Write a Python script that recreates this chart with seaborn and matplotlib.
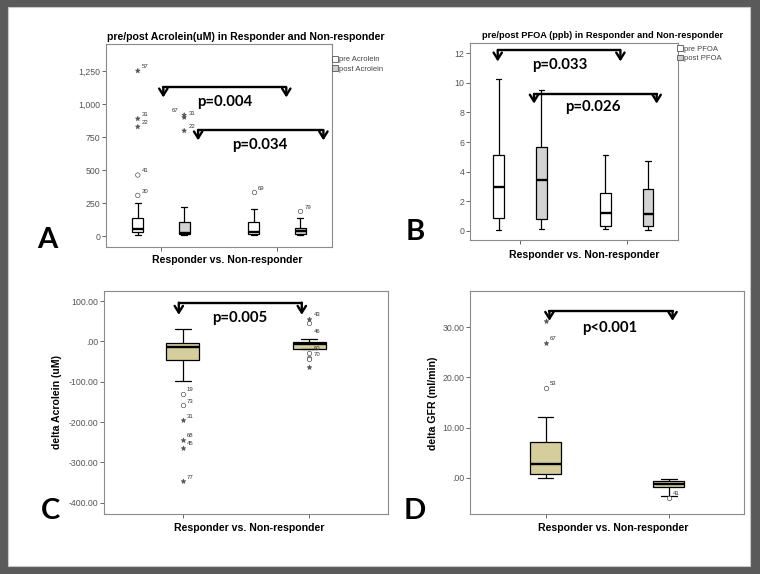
import numpy as np
import pandas as pd
import matplotlib
matplotlib.use("Agg")
import matplotlib.pyplot as plt
import seaborn as sns
from matplotlib.patches import Rectangle, Patch
from matplotlib.ticker import FuncFormatter

groups = ['Responder', 'Non-responder']
times = ['pre', 'post']

# five-number summaries: low whisker, Q1, median, Q3, high whisker
acro_pre_resp = [8, 28, 55, 134, 250]
acro_post_resp = [10, 15, 25, 106, 217]
acro_pre_nonresp = [8, 13, 28, 104, 205]
acro_post_nonresp = [8, 13, 35, 63, 134]

pfoa_pre_resp = [0.05, 0.83, 2.93, 5.12, 10.29]
pfoa_post_resp = [0.09, 0.77, 3.41, 5.64, 9.5]
pfoa_pre_nonresp = [0.09, 0.34, 1.17, 2.57, 5.14]
pfoa_post_nonresp = [0.02, 0.34, 1.15, 2.84, 4.71]

dacro_resp = [-97.8, -46.4, -13.4, -5.0, 31.4]
dacro_nonresp = [-20.0, -17.7, -5.3, -1.2, 5.0]

dgfr_resp = [0.0, 0.8, 2.79, 7.19, 12.18]
dgfr_nonresp = [-3.6, -1.92, -1.26, -0.66, -0.2]

# outliers (o = outlier, * = extreme) with case numbers
a_out_group = ['Responder'] * 8 + ['Non-responder'] * 2
a_out_time = ['pre'] * 5 + ['post'] * 3 + ['pre', 'post']
a_out_value = [308, 462, 828, 889, 1252, 798, 899, 917, 331, 187]
a_out_mark = ['o', 'o', '*', '*', '*', '*', '*', '*', 'o', 'o']
a_out_id = ['30', '41', '22', '31', '57', '22', '31', '67', '69', '79']

c_out_group = ['Responder'] * 6 + ['Non-responder'] * 6
c_out_value = [-131, -158.7, -195.9, -244.6, -263.6, -347, 55.4, 44.6, -28, -40, -44, -64.5]
c_out_mark = ['o', 'o', '*', '*', '*', '*', '*', 'o', 'o', 'o', 'o', '*']
c_out_id = ['19', '73', '31', '68', '45', '77', '43', '46', '60', '', '70', '']

d_out_group = ['Responder'] * 3 + ['Non-responder']
d_out_value = [17.96, 26.95, 31.2, -4.05]
d_out_mark = ['o', '*', '*', 'o']
d_out_id = ['53', '67', '', '41']

p_texts = ['p=0.004', 'p=0.034', 'p=0.033', 'p=0.026', 'p=0.005', 'p<0.001']

sns.set_theme(style='white')
plt.rcParams['font.family'] = ['Liberation Sans', 'DejaVu Sans']

W, H = 760, 574
fig = plt.figure(figsize=(W / 100, H / 100), dpi=100, facecolor='#5a5a5a')
fig.patches.append(Rectangle((8 / W, 1 - 566 / H), 742 / W, 559 / H,
                             transform=fig.transFigure, facecolor='white',
                             edgecolor='#c8c8c8', lw=0.8, zorder=-10))


def px_axes(l, t, r, b):
    ax = fig.add_axes([l / W, 1 - b / H, (r - l) / W, (b - t) / H])
    ax.set_zorder(1)
    return ax


def fig_text(x, y, s, **kw):
    fig.text(x / W, 1 - y / H, s, **kw)


def long_df(boxes):
    rows = []
    for (grp, tm), vals in boxes.items():
        for v in vals:
            rows.append((grp, tm, v))
    return pd.DataFrame(rows, columns=['group', 'time', 'value'])


def spss_fmt(v, pos):
    s = f'{v:.2f}'
    return s.replace('0.', '.', 1) if abs(v) < 1 else s


def style_axes(ax, xlim, ylim, yticks, fmt):
    ax.set_xlim(*xlim)
    ax.set_ylim(*ylim)
    ax.set_yticks(yticks)
    ax.yaxis.set_major_formatter(FuncFormatter(fmt))
    ax.set_xticks([0, 1])
    ax.set_xticklabels([])
    ax.set_xlabel('')
    ax.set_ylabel('')
    ax.tick_params(bottom=True, left=True, direction='out', length=3, width=0.7,
                   color='#666666', labelsize=6.3, labelcolor='#555555', pad=1)
    for sp in ax.spines.values():
        sp.set_color('#8a8a8a')
        sp.set_linewidth(0.8)


def draw_outliers(ax, df, hue):
    for mark, face, size in [('o', 'white', 3.2), ('*', '#555555', 3.4)]:
        sub = df[df['mark'] == mark]
        if sub.empty:
            continue
        kw = dict(data=sub, x='group', y='value', order=groups, jitter=False,
                  marker=mark, size=size, linewidth=0.5, edgecolor='#555555',
                  legend=False, ax=ax, zorder=5)
        if hue:
            kw.update(hue='time', hue_order=times, dodge=True, palette=[face, face])
        else:
            kw.update(color=face)
        sns.stripplot(**kw)
    for _, r in df.iterrows():
        x = groups.index(r['group'])
        if hue:
            x += -0.2 if r['time'] == 'pre' else 0.2
        dx, dy = (-9, 2) if r['id'] == '67' and hue else (3, 2)
        if r['id'] == '46':
            dy = -7
        ax.annotate(r['id'], (x, r['value']), xytext=(dx, dy), textcoords='offset points',
                    fontsize=4.3, color='#333333')


def bracket(ax, x1, x2, y, tip, text, tx, ty):
    ax.plot([x1, x2], [y, y], color='black', lw=1.7, solid_capstyle='round', zorder=6)
    for x in (x1, x2):
        ax.annotate('', xy=(x, tip), xytext=(x, y),
                    arrowprops=dict(arrowstyle='->,head_length=0.4,head_width=0.25',
                                    lw=1.7, color='black', shrinkA=0, shrinkB=0))
    ax.text(tx, ty, text, ha='center', va='center', fontsize=10.8, color='black',
            fontweight='bold', family=['Lato', 'DejaVu Sans'])


box_kw = dict(whis=(0, 100), linecolor='black', linewidth=0.9, saturation=1,
              medianprops={'linewidth': 1.7}, legend=False)

# ---- A: pre/post Acrolein
ax = px_axes(106, 44, 332, 247)
df_a = long_df({('Responder', 'pre'): acro_pre_resp, ('Responder', 'post'): acro_post_resp,
                ('Non-responder', 'pre'): acro_pre_nonresp, ('Non-responder', 'post'): acro_post_nonresp})
sns.boxplot(data=df_a, x='group', y='value', hue='time', order=groups, hue_order=times,
            palette=['white', '#d3d3d3'], width=0.8, gap=0.76, ax=ax, **box_kw)
out_a = pd.DataFrame({'group': a_out_group, 'time': a_out_time, 'value': a_out_value,
                      'mark': a_out_mark, 'id': a_out_id})
draw_outliers(ax, out_a, hue=True)
style_axes(ax, (-0.474, 1.474), (-83, 1455), np.arange(0, 1251, 250),
           lambda v, p: f'{v:,.0f}')
bracket(ax, 0.02, 1.08, 1126, 1050, p_texts[0], 0.55, 1018)
bracket(ax, 0.32, 1.40, 803, 725, p_texts[1], 0.85, 689)

# ---- B: pre/post PFOA
ax = px_axes(470, 43, 678, 240)
df_b = long_df({('Responder', 'pre'): pfoa_pre_resp, ('Responder', 'post'): pfoa_post_resp,
                ('Non-responder', 'pre'): pfoa_pre_nonresp, ('Non-responder', 'post'): pfoa_post_nonresp})
sns.boxplot(data=df_b, x='group', y='value', hue='time', order=groups, hue_order=times,
            palette=['white', '#d3d3d3'], width=0.8, gap=0.75, ax=ax, **box_kw)
style_axes(ax, (-0.47, 1.48), (-0.63, 12.7), np.arange(0, 13, 2), lambda v, p: f'{v:.0f}')
bracket(ax, -0.21, 0.94, 12.23, 11.45, p_texts[2], 0.375, 11.2)
bracket(ax, 0.13, 1.28, 9.25, 8.6, p_texts[3], 0.68, 8.39)

# ---- C: delta Acrolein
ax = px_axes(104, 291, 388, 514)
df_c = long_df({('Responder', 'all'): dacro_resp, ('Non-responder', 'all'): dacro_nonresp})
sns.boxplot(data=df_c, x='group', y='value', order=groups, color='#d5cd9c',
            width=0.255, ax=ax, **box_kw)
out_c = pd.DataFrame({'group': c_out_group, 'value': c_out_value, 'mark': c_out_mark, 'id': c_out_id})
draw_outliers(ax, out_c, hue=False)
style_axes(ax, (-0.62, 1.62), (-428, 125), np.arange(-400, 101, 100), spss_fmt)
bracket(ax, -0.03, 0.94, 96, 66, p_texts[4], 0.45, 58.7)

# ---- D: delta GFR
ax = px_axes(470, 291, 744, 514)
df_d = long_df({('Responder', 'all'): dgfr_resp, ('Non-responder', 'all'): dgfr_nonresp})
sns.boxplot(data=df_d, x='group', y='value', order=groups, color='#d5cd9c',
            width=0.25, ax=ax, **box_kw)
out_d = pd.DataFrame({'group': d_out_group, 'value': d_out_value, 'mark': d_out_mark, 'id': d_out_id})
draw_outliers(ax, out_d, hue=False)
style_axes(ax, (-0.615, 1.61), (-7.25, 37.25), np.arange(0, 31, 10), spss_fmt)
bracket(ax, 0.03, 1.03, 33.2, 31.3, p_texts[5], 0.52, 29.8)

# titles, axis labels, legends, panel letters
title_kw = dict(fontweight='bold', ha='center', va='center', color='black')
fig_text(246, 36.5, 'pre/post Acrolein(uM) in Responder and Non-responder', fontsize=7.6, **title_kw)
fig_text(603, 35.5, 'pre/post PFOA (ppb) in Responder and Non-responder', fontsize=6.65, **title_kw)

xl_kw = dict(fontsize=7.6, fontweight='bold', ha='center', va='center', color='black')
fig_text(227, 260, 'Responder vs. Non-responder', **xl_kw)
fig_text(584, 255, 'Responder vs. Non-responder', **xl_kw)
fig_text(249, 528, 'Responder vs. Non-responder', **xl_kw)
fig_text(613, 528, 'Responder vs. Non-responder', **xl_kw)
fig_text(57, 402, 'delta Acrolein (uM)', rotation=90, **xl_kw)
fig_text(433, 403, 'delta GFR (ml/min)', rotation=90, **xl_kw)

for (x, y), labels in [((332, 56), ['pre Acrolein', 'post Acrolein']),
                       ((677, 45.5), ['pre PFOA', 'post PFOA'])]:
    handles = [Patch(facecolor='white', edgecolor='#555555', lw=0.6),
               Patch(facecolor='#cfcfcf', edgecolor='#555555', lw=0.6)]
    fig.legend(handles, labels, loc='upper left', bbox_to_anchor=(x / W, 1 - y / H),
               frameon=False, fontsize=5.5, handlelength=0.75, handleheight=0.75,
               handletextpad=0.15, labelspacing=0.25, borderpad=0, borderaxespad=0,
               labelcolor='#444444')

letter_kw = dict(fontsize=21, fontweight='bold', ha='center', va='center',
                 family=['Lato', 'DejaVu Sans'], color='black')
fig_text(47, 240, 'A', **letter_kw)
fig_text(415, 232, 'B', **letter_kw)
fig_text(51, 511, 'C', **letter_kw)
fig_text(415, 511, 'D', **letter_kw)

fig.savefig('out.png', dpi=100, facecolor=fig.get_facecolor())
